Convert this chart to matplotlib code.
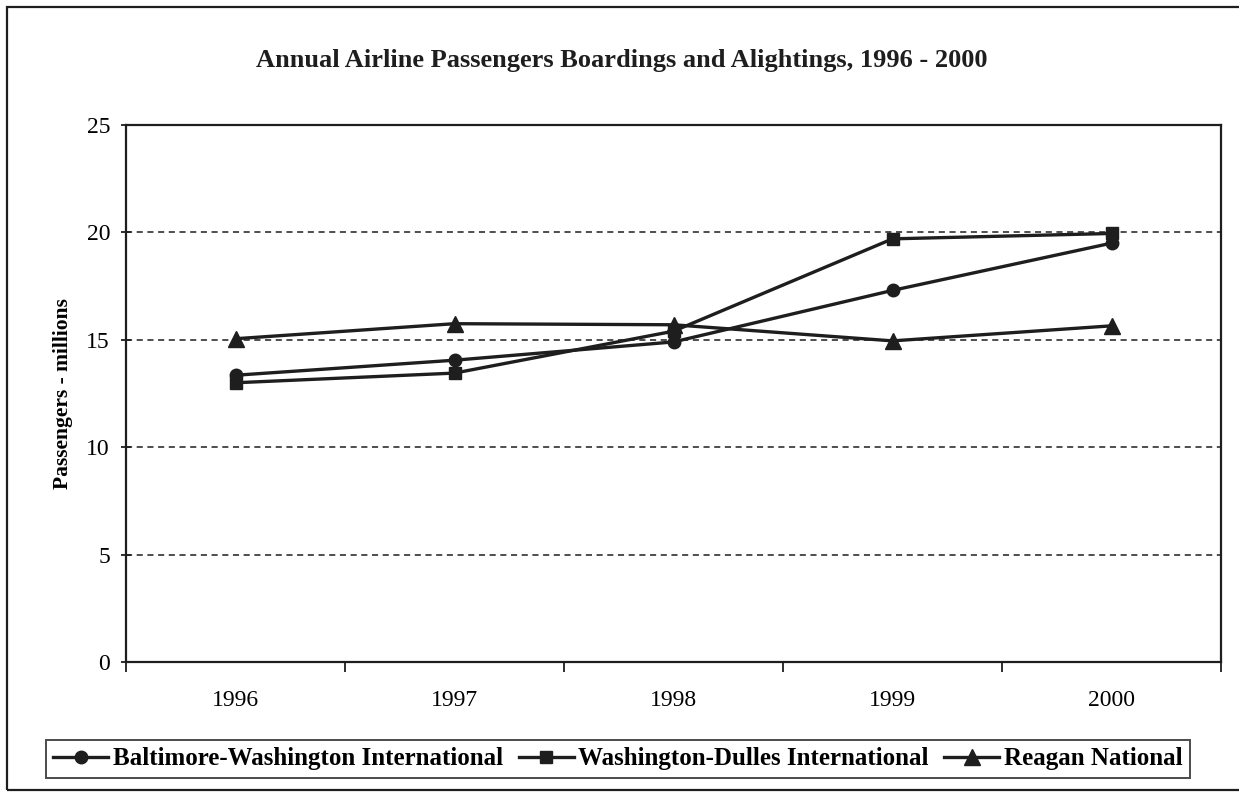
import matplotlib
matplotlib.use("Agg")
import matplotlib.pyplot as plt
from matplotlib.patches import Rectangle

years = ["1996", "1997", "1998", "1999", "2000"]
bwi = [13.35, 14.05, 14.9, 17.3, 19.5]
iad = [13.0, 13.45, 15.4, 19.7, 19.95]
dca = [15.05, 15.75, 15.7, 14.95, 15.65]
labels = ["Baltimore-Washington International",
          "Washington-Dulles International",
          "Reagan National"]
yticks = [0, 5, 10, 15, 20, 25]

plt.rcParams['font.family'] = ['Liberation Serif', 'DejaVu Serif']

fig = plt.figure(figsize=(12.39, 7.94), dpi=100)
ax = fig.add_axes([126/1239, 1-662/794, (1221-126)/1239, (662-125)/794])

ink = "#1e1e1e"
x = range(len(years))
ax.plot(x, bwi, color=ink, lw=2.4, marker='o', ms=9, label=labels[0])
ax.plot(x, iad, color=ink, lw=2.4, marker='s', ms=9, label=labels[1])
ax.plot(x, dca, color=ink, lw=2.4, marker='^', ms=11.5, label=labels[2])

ax.set_xlim(-0.5, len(years) - 0.5)
ax.set_ylim(0, 25)
ax.set_yticks(yticks)
ax.set_yticklabels([str(v) for v in yticks], fontsize=17)
ax.set_xticks(list(x))
ax.set_xticklabels(years, fontsize=17)
ax.tick_params(axis='x', length=0, pad=20)
ax.set_xticks([i - 0.5 for i in range(len(years) + 1)], minor=True)
ax.tick_params(axis='x', which='minor', length=7, width=1.3, direction='out', color=ink)
ax.tick_params(axis='y', length=7, width=1.3, direction='inout', color=ink, pad=8)
for gy in yticks[1:-1]:
    ax.axhline(gy, color=ink, lw=1.1, ls=(0, (4, 3)), zorder=0)
for s in ax.spines.values():
    s.set_color(ink)
    s.set_linewidth(1.6)
ax.set_ylabel("Passengers - millions", fontsize=15.5, fontweight='bold', labelpad=10)

fig.text(622/1239, 1-61/794, "Annual Airline Passengers Boardings and Alightings, 1996 - 2000",
         ha='center', va='center', fontsize=19, fontweight='bold', color=ink)

leg = fig.legend(loc='center', bbox_to_anchor=(618/1239, 1-759/794), ncol=3,
                 frameon=True, fancybox=False, edgecolor=ink,
                 prop={'weight': 'bold', 'size': 18}, handlelength=2.2,
                 handletextpad=0.2, columnspacing=0.6, borderpad=0.3)
leg.get_frame().set_linewidth(1.4)

fig.patches.append(Rectangle((7/1239, 4/794), 1.0, 1-11/794, transform=fig.transFigure,
                             fill=False, edgecolor=ink, lw=1.6))

fig.savefig("out.png", dpi=100)
